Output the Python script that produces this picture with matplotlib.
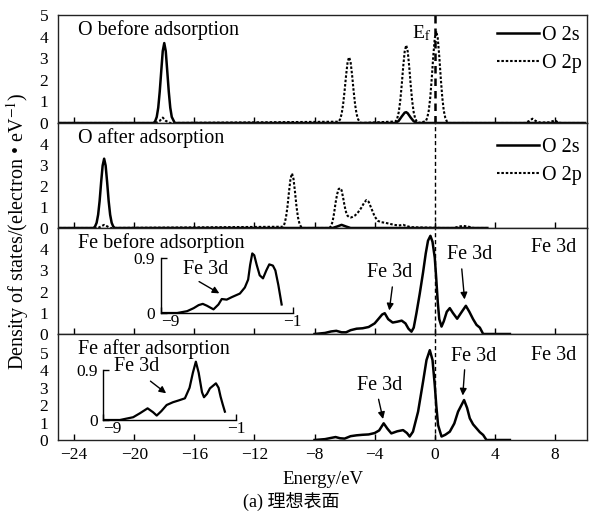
import matplotlib
matplotlib.use("Agg")
from matplotlib import pyplot as plt
from matplotlib.lines import Line2D

plt.rcParams["font.family"] = ["Liberation Serif", "Noto Sans CJK SC"]
plt.rcParams["mathtext.fontset"] = "stix"
plt.rcParams["axes.linewidth"] = 1.0

# ---- data (energy in eV, DOS in electron/eV) ----
o2s_before_e = [-25.0, -18.7, -18.6, -18.5, -18.4, -18.3, -18.2, -18.1, -18.0, -17.9,
                -17.8, -17.7, -17.6, -17.5, -17.3, -2.6, -2.4, -2.2, -2.0, -1.9,
                -1.8, -1.6, -1.4, -1.2, 10.0]
o2s_before_d = [0, 0, 0.09, 0.28, 0.71, 1.46, 2.4, 3.33, 3.7, 3.33,
                2.4, 1.46, 0.71, 0.28, 0, 0, 0.1, 0.3, 0.48, 0.5,
                0.45, 0.25, 0.08, 0, 0]

o2p_before_e = [-25.0, -18.6, -18.3, -18.1, -17.9, -17.6,
                -6.4, -6.3, -6.2, -6.1, -6.0, -5.9, -5.8, -5.7, -5.6, -5.5, -5.4, -5.3, -5.2,
                -5.1, -5.0, -4.9,
                -2.6, -2.5, -2.4, -2.3, -2.2, -2.1, -2.0, -1.9, -1.8, -1.7, -1.6, -1.5, -1.4,
                -1.3, -1.2, -1.1,
                -0.6, -0.5, -0.4, -0.3, -0.2, -0.1, 0.0, 0.1, 0.2, 0.3, 0.4, 0.5, 0.6, 0.7,
                0.8, 0.9,
                6.0, 6.3, 6.5, 6.7, 7.0, 7.6, 8.0, 8.2, 8.4, 10.0]
o2p_before_d = [0, 0, 0.1, 0.25, 0.1, 0,
                0.06, 0.17, 0.41, 0.85, 1.49, 2.21, 2.82, 3.05, 2.82, 2.21, 1.49, 0.85, 0.41,
                0.17, 0.06, 0,
                0.07, 0.2, 0.49, 1.0, 1.75, 2.61, 3.32, 3.6, 3.32, 2.61, 1.75, 1.0, 0.49,
                0.2, 0.07, 0,
                0.08, 0.24, 0.57, 1.18, 2.07, 3.09, 3.92, 4.25, 3.92, 3.09, 2.07, 1.18, 0.57,
                0.24, 0.08, 0,
                0, 0.1, 0.2, 0.1, 0.02, 0.03, 0.12, 0.03, 0, 0]

o2s_after_e = [-25.0, -22.7, -22.6, -22.5, -22.4, -22.3, -22.2, -22.1, -22.0, -21.9,
               -21.8, -21.7, -21.6, -21.5, -21.4, -21.3, -6.8, -6.5, -6.2, -5.9, -5.6, 3.5]
o2s_after_d = [0, 0, 0.08, 0.25, 0.63, 1.29, 2.18, 2.97, 3.3, 2.97,
               2.18, 1.29, 0.63, 0.25, 0.08, 0, 0, 0.07, 0.15, 0.07, 0, 0]

o2p_after_e = [-25.0, -22.4, -22.2, -22.0, -21.8, -21.6,
               -10.1, -10.0, -9.9, -9.8, -9.7, -9.6, -9.5, -9.4, -9.3, -9.2, -9.1, -9.0, -8.9,
               -8.8, -7.0, -6.9, -6.8, -6.7, -6.6, -6.5, -6.4, -6.3, -6.2, -6.1, -6.0, -5.9,
               -5.8, -5.7, -5.6, -5.5, -5.3, -5.1, -4.9, -4.7, -4.55, -4.4, -4.2, -4.0, -3.8,
               -3.6, -3.3, -3.0, -2.7, -2.4, -2.1, -1.9, -1.6, -1.2, -0.5, 0.5, 1.3, 1.6,
               1.9, 2.2, 2.6, 3.5]
o2p_after_d = [0, 0, 0.08, 0.15, 0.08, 0,
               0.06, 0.2, 0.5, 1.02, 1.72, 2.34, 2.6, 2.34, 1.72, 1.02, 0.5, 0.2, 0.06,
               0, 0, 0.1, 0.3, 0.7, 1.2, 1.6, 1.85, 1.9, 1.8, 1.45, 1.05, 0.75,
               0.58, 0.52, 0.5, 0.52, 0.6, 0.75, 0.95, 1.2, 1.33, 1.25, 0.9, 0.55, 0.35,
               0.28, 0.25, 0.2, 0.15, 0.12, 0.15, 0.1, 0.04, 0.03, 0.02, 0, 0, 0.07,
               0.1, 0.07, 0, 0]

fe_before_e = [-8.0, -7.3, -6.9, -6.55, -6.2, -5.9, -5.6, -5.2, -4.8, -4.4, -4.0, -3.7,
               -3.5, -3.33, -3.1, -2.8, -2.5, -2.2, -1.95, -1.75, -1.55, -1.4, -1.22,
               -1.0, -0.78, -0.6, -0.45, -0.29, -0.15, 0.0, 0.1, 0.2, 0.3, 0.45, 0.6,
               0.8, 1.0, 1.2, 1.49, 1.8, 2.07, 2.3, 2.55, 2.78, 3.0, 3.22, 5.0]
fe_before_d = [0, 0.05, 0.12, 0.15, 0.08, 0.08, 0.18, 0.25, 0.27, 0.33, 0.5, 0.75,
               0.92, 0.98, 0.7, 0.54, 0.58, 0.63, 0.5, 0.25, 0.11, 0.3, 0.98,
               1.9, 2.9, 3.8, 4.4, 4.63, 4.35, 3.6, 2.6, 1.5, 0.7, 0.35, 0.6,
               1.05, 1.22, 1.0, 0.72, 1.05, 1.33, 1.05, 0.7, 0.43, 0.3, 0, 0]

fe_after_e = [-8.0, -7.3, -6.9, -6.6, -6.3, -6.0, -5.6, -5.2, -4.8, -4.4, -4.0, -3.7,
              -3.4, -3.15, -2.89, -2.5, -2.11, -1.85, -1.67, -1.45, -1.11, -0.78, -0.55,
              -0.33, -0.15, 0.0, 0.1, 0.22, 0.45, 0.7, 1.0, 1.3, 1.55, 1.95, 2.15, 2.33,
              2.55, 2.78, 3.0, 3.22, 3.44, 5.0]
fe_after_d = [0, 0.05, 0.12, 0.17, 0.1, 0.08, 0.22, 0.27, 0.3, 0.32, 0.4, 0.55,
              0.96, 0.65, 0.38, 0.5, 0.57, 0.4, 0.2, 0.48, 1.63, 3.35, 4.6,
              5.17, 4.6, 3.16, 2.0, 0.86, 0.2, 0.3, 0.48, 0.95, 1.63, 2.3, 1.85, 1.25,
              0.9, 0.67, 0.45, 0.29, 0.0, 0]

inset_before_e = [-9.0, -8.0, -7.4, -7.0, -6.7, -6.45, -6.2, -5.8, -5.5, -5.3, -5.0, -4.7,
                  -4.2, -3.9, -3.7, -3.58, -3.45, -3.33, -3.18, -3.0, -2.8, -2.6, -2.42,
                  -2.2, -2.05, -1.87, -1.67]
inset_before_d = [0, 0, 0.03, 0.08, 0.13, 0.15, 0.12, 0.06, 0.14, 0.23, 0.22, 0.26,
                  0.32, 0.42, 0.55, 0.79, 0.98, 0.95, 0.79, 0.62, 0.57, 0.7, 0.8,
                  0.78, 0.7, 0.46, 0.14]

inset_after_e = [-9.0, -8.0, -7.2, -6.8, -6.33, -6.0, -5.78, -5.5, -5.18, -4.8, -4.48,
                 -4.08, -3.8, -3.6, -3.42, -3.25, -3.05, -2.93, -2.75, -2.57, -2.21,
                 -2.05, -1.93, -1.8, -1.67]
inset_after_d = [0, 0, 0.05, 0.12, 0.21, 0.14, 0.08, 0.16, 0.27, 0.32, 0.35,
                 0.39, 0.58, 0.85, 1.05, 0.85, 0.5, 0.41, 0.47, 0.57, 0.66,
                 0.58, 0.42, 0.28, 0.15]

x_ticks = [-24, -20, -16, -12, -8, -4, 0, 4, 8]
panel_titles = ["O before adsorption", "O after adsorption",
                "Fe before adsorption", "Fe after adsorption"]

# ---- layout ----
W, H = 595, 529
fig = plt.figure(figsize=(W / 100, H / 100), dpi=100)

def px_axes(x0, y_top, x1, y_bot):
    return fig.add_axes([x0 / W, 1 - y_bot / H, (x1 - x0) / W, (y_bot - y_top) / H])

edges = [15, 123, 228, 334, 440]
axes = [px_axes(58, edges[i], 587, edges[i + 1]) for i in range(4)]
ylims = [(0, 5), (0, 5), (0, 5), (0, 6.1)]
yticks = [[0, 1, 2, 3, 4, 5], [0, 1, 2, 3, 4], [0, 1, 2, 3, 4], [0, 1, 2, 3, 4, 5]]

solid = dict(color="black", lw=1.8)
dotted = dict(color="black", lw=1.5, ls=(0, (1.2, 0.9)))

for i, ax in enumerate(axes):
    ax.set_xlim(-25.07, 10.13)
    ax.set_ylim(*ylims[i])
    ax.set_xticks(x_ticks)
    ax.set_yticks(yticks[i])
    ax.tick_params(axis="x", direction="in", length=4.5, width=1, labelsize=12.5, pad=5)
    ax.tick_params(axis="y", length=0, labelsize=12.5, pad=7)
    if i < 3:
        ax.tick_params(axis="x", labelbottom=False)
    for s in ax.spines.values():
        s.set_color("#222222")
    ax.text(0.038, 0.86, panel_titles[i], transform=ax.transAxes, fontsize=14.5,
            va="center", ha="left")
    ax.axvline(0, color="black", lw=1.8 if i == 0 else 1.0, ls=(0, (3, 2)), zorder=1)

ax1, ax2, ax3, ax4 = axes
ax1.plot(o2s_before_e, o2s_before_d, **solid)
ax1.plot(o2p_before_e, o2p_before_d, **dotted)
ax1.text(-0.9, 4.15, r"E$_{\rm f}$", fontsize=14, ha="center", va="center")
ax2.plot(o2s_after_e, o2s_after_d, **solid)
ax2.plot(o2p_after_e, o2p_after_d, **dotted)

handles = [Line2D([], [], **solid), Line2D([], [], **dotted)]
for ax, top in [(ax1, 0.9), (ax2, 0.855)]:
    ax.legend(handles, ["O 2s", "O 2p"], loc="upper right", bbox_to_anchor=(0.99, top),
              frameon=False, fontsize=14.5, handlelength=2.1, handletextpad=0.15,
              labelspacing=0.45, borderpad=0, borderaxespad=0)

ax3.plot(fe_before_e, fe_before_d, **solid)
ax4.plot(fe_after_e, fe_after_d, **solid)
for ax, y in [(ax3, 0.82), (ax4, 0.80)]:
    ax.text(0.98, y, "Fe 3d", transform=ax.transAxes, fontsize=14.5, ha="right", va="center")

arrow = dict(arrowstyle="-|>", color="black", lw=1.0, mutation_scale=10)
ax3.annotate("", xy=(-3.05, 0.98), xytext=(-2.8, 2.35), arrowprops=arrow)
ax3.text(-3.0, 2.9, "Fe 3d", fontsize=14.5, ha="center", va="center")
ax3.annotate("", xy=(2.0, 1.5), xytext=(1.78, 3.2), arrowprops=arrow)
ax3.text(2.33, 3.76, "Fe 3d", fontsize=14.5, ha="center", va="center")
ax4.annotate("", xy=(-3.4, 1.05), xytext=(-3.78, 2.5), arrowprops=arrow)
ax4.text(-3.67, 3.16, "Fe 3d", fontsize=14.5, ha="center", va="center")
ax4.annotate("", xy=(1.85, 2.4), xytext=(2.0, 4.2), arrowprops=arrow)
ax4.text(2.6, 4.79, "Fe 3d", fontsize=14.5, ha="center", va="center")

ax4.set_xlabel("Energy/eV", fontsize=13.5, labelpad=6)

# ---- insets ----
def make_inset(x0, x1, y0_px, y09_px, ytop, e, d, label_xy, arrow_from, arrow_to):
    scale = (y0_px - y09_px) / 0.9
    top_px = y0_px - scale * ytop
    ins = px_axes(x0, top_px, x1, y0_px)
    ins.patch.set_alpha(0)
    ins.plot(e, d, color="black", lw=1.6)
    ins.set_xlim(-9, -1)
    ins.set_ylim(0, ytop)
    ins.set_xticks([-9, -1])
    ins.set_yticks([0, 0.9])
    ins.set_yticklabels(["0", "0.9"])
    ins.spines["top"].set_visible(False)
    ins.spines["right"].set_visible(False)
    ins.spines["left"].set_bounds(0, 0.9)
    ins.tick_params(direction="in", length=4, width=1, labelsize=12.5)
    ins.tick_params(axis="x", pad=1)
    ins.tick_params(axis="y", pad=4)
    ins.get_xticklabels()[0].set_horizontalalignment("left")
    ins.annotate("", xy=arrow_to, xytext=arrow_from, arrowprops=arrow)
    ins.text(label_xy[0], label_xy[1], "Fe 3d", fontsize=14.5, ha="center", va="center")
    return ins

make_inset(160.7, 292.7, 313, 258.3, 1.05, inset_before_e, inset_before_d,
           (-6.3, 0.71), (-6.82, 0.54), (-5.3, 0.3))
make_inset(103.3, 236, 420, 370, 1.1, inset_after_e, inset_after_d,
           (-6.99, 0.96), (-6.29, 0.73), (-5.08, 0.45))

fig.text(0.03, 0.563, "Density of states/(electron • eV$^{-1}$)", rotation=90,
         fontsize=14.5, ha="center", va="center")
fig.text(0.49, 0.052, "(a) 理想表面", fontsize=13, ha="center", va="center")

fig.savefig("out.png", dpi=100)
